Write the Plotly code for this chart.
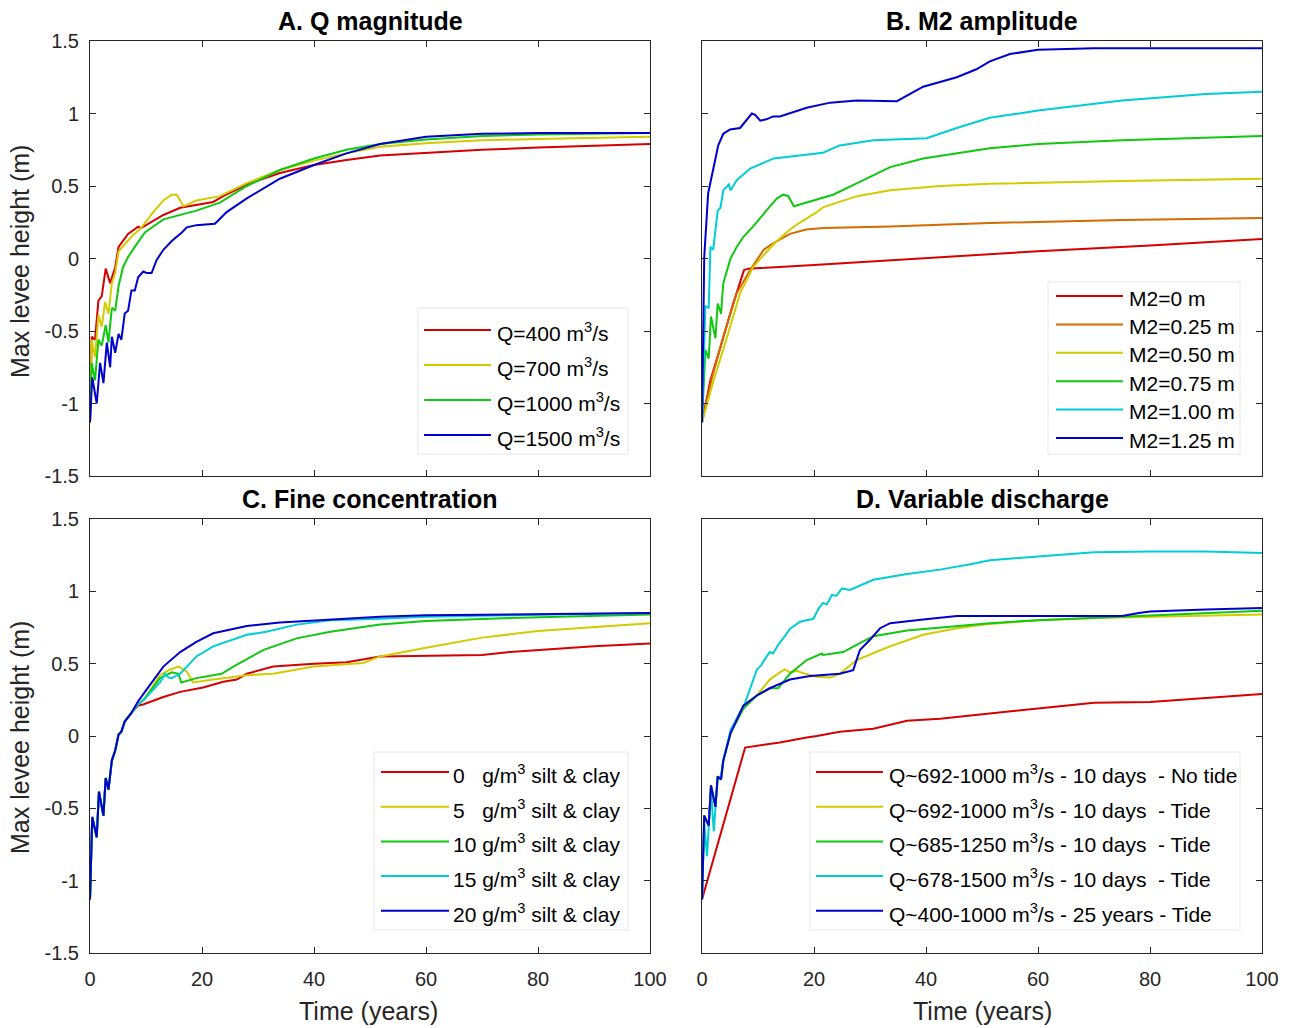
import plotly.graph_objects as go

# ---------------- data ----------------
# Panel A: discharge magnitude
A_T_Q400 = [0, 0.3, 0.9, 1.5, 2.1, 2.8, 3.6, 4.5, 5.1, 6.8, 8.6, 9.1, 13.1, 16.1, 22, 23.8, 28, 33.9, 40, 45.8, 51.8, 60, 70, 80, 90, 100]
A_Q400 = [-1.13, -0.54, -0.56, -0.29, -0.26, -0.07, -0.17, -0.06, 0.08, 0.17, 0.22, 0.21, 0.30, 0.35, 0.39, 0.43, 0.51, 0.59, 0.645, 0.68, 0.71, 0.73, 0.75, 0.765, 0.78, 0.79]
A_T_Q700 = [0, 0.3, 0.9, 1.5, 2.1, 2.7, 3.3, 3.9, 4.5, 5.1, 7.4, 9.1, 11.3, 13.1, 14.6, 15.5, 16.7, 19, 23.2, 28, 33.9, 40, 45.8, 51.8, 60, 70, 80, 90, 100]
A_Q700 = [-1.13, -0.56, -0.68, -0.39, -0.47, -0.30, -0.38, -0.17, -0.10, 0.05, 0.15, 0.21, 0.32, 0.40, 0.44, 0.44, 0.36, 0.40, 0.43, 0.52, 0.61, 0.675, 0.725, 0.77, 0.795, 0.815, 0.825, 0.835, 0.84]
A_T_Q1000 = [0, 0.3, 0.9, 1.5, 2.1, 2.8, 3.3, 3.9, 4.5, 5.1, 5.9, 6.8, 8, 9.8, 13.1, 19, 23.2, 28, 33.9, 40, 45.8, 51.8, 60, 70, 80, 90, 100]
A_Q1000 = [-1.13, -0.72, -0.84, -0.56, -0.60, -0.46, -0.58, -0.34, -0.36, -0.19, -0.06, 0.01, 0.08, 0.18, 0.27, 0.33, 0.385, 0.50, 0.61, 0.69, 0.75, 0.79, 0.82, 0.845, 0.855, 0.86, 0.865]
A_T_Q1500 = [0, 0.4, 1.2, 1.8, 2.4, 3.0, 3.6, 3.9, 4.5, 5.1, 5.6, 6.2, 6.8, 7.4, 8.0, 8.6, 9.5, 10.1, 11, 11.9, 13.1, 14.6, 16.4, 17.3, 19, 22.3, 24.4, 28, 33.9, 40, 45.8, 51.8, 60, 70, 80, 90, 100]
A_Q1500 = [-1.13, -0.82, -1.0, -0.72, -0.86, -0.58, -0.75, -0.54, -0.65, -0.52, -0.56, -0.38, -0.36, -0.22, -0.22, -0.13, -0.09, -0.10, -0.10, -0.01, 0.06, 0.12, 0.18, 0.215, 0.23, 0.24, 0.32, 0.415, 0.55, 0.645, 0.725, 0.79, 0.84, 0.86, 0.865, 0.865, 0.865]

# Panel B: M2 tidal amplitude
B_T_M000 = [0, 1.5, 3.3, 5.5, 7.5, 8.3, 20, 40, 51.4, 60, 80, 100]
B_M000 = [-1.13, -0.84, -0.61, -0.32, -0.08, -0.07, -0.045, 0.005, 0.03, 0.05, 0.09, 0.135]
B_T_M025 = [0, 0.9, 1.8, 3.8, 6.2, 8.6, 11, 12.7, 15.7, 18.6, 21.7, 33.6, 51.4, 75, 100]
B_M025 = [-1.13, -0.98, -0.82, -0.54, -0.24, -0.08, 0.06, 0.105, 0.17, 0.20, 0.21, 0.22, 0.245, 0.265, 0.28]
B_T_M050 = [0, 0.9, 2, 4.5, 6.8, 9.1, 12.8, 15.7, 17, 20.5, 21.7, 27.7, 33.6, 42.5, 51.4, 75, 100]
B_M050 = [-1.13, -1.0, -0.85, -0.54, -0.24, -0.06, 0.10, 0.20, 0.235, 0.32, 0.355, 0.43, 0.47, 0.50, 0.515, 0.535, 0.55]
B_T_M075 = [0, 0.6, 1.2, 1.6, 2.4, 2.8, 3.4, 3.8, 5.1, 6.2, 7.4, 9.1, 11.6, 13.4, 14.5, 15.4, 16.4, 23.4, 27.7, 33.6, 39.5, 51.4, 60, 75, 100]
B_M075 = [-1.13, -0.63, -0.69, -0.40, -0.55, -0.31, -0.38, -0.17, 0.0, 0.08, 0.15, 0.22, 0.335, 0.415, 0.44, 0.43, 0.36, 0.44, 0.52, 0.63, 0.69, 0.76, 0.79, 0.815, 0.845]
B_T_M100 = [0, 0.6, 1.2, 1.5, 2.0, 2.8, 3.3, 3.8, 4.8, 5.1, 6.2, 8.6, 12.8, 18.8, 21.6, 24.6, 30.6, 40.1, 45.5, 51.4, 60, 75, 90, 100]
B_M100 = [-1.13, -0.33, -0.34, 0.08, 0.06, 0.33, 0.35, 0.47, 0.51, 0.47, 0.54, 0.62, 0.69, 0.72, 0.73, 0.78, 0.815, 0.83, 0.90, 0.97, 1.02, 1.09, 1.135, 1.15]
B_T_M125 = [0, 0.4, 1.1, 1.7, 2.3, 2.9, 3.8, 5.0, 6.8, 7.4, 8.9, 9.5, 10.4, 11.5, 12.7, 13.9, 18.7, 22.9, 27.6, 34.8, 39.5, 45.5, 49, 51.4, 55, 60, 70, 80, 100]
B_M125 = [-1.13, 0.01, 0.45, 0.56, 0.68, 0.78, 0.86, 0.89, 0.90, 0.93, 1.00, 0.99, 0.95, 0.96, 0.98, 0.98, 1.04, 1.075, 1.09, 1.085, 1.185, 1.25, 1.305, 1.36, 1.41, 1.44, 1.45, 1.45, 1.45]

# Panel C: fine sediment concentration (shared spin-up, then per run)
C_T_START = [0, 0.4, 1.2, 1.6, 2.4, 2.8, 3.3, 3.9, 4.5, 5.1, 5.6, 6.2, 7.4]
C_START = [-1.13, -0.56, -0.70, -0.385, -0.55, -0.29, -0.37, -0.17, -0.10, 0.01, 0.03, 0.10, 0.16]
C_T_F00 = [8.6, 9.6, 13.1, 16.1, 20.2, 23.8, 26.2, 28, 32.7, 40, 45.8, 51.8, 60, 70, 75, 80, 90, 100]
C_F00 = [0.21, 0.22, 0.27, 0.305, 0.335, 0.375, 0.39, 0.43, 0.48, 0.50, 0.51, 0.55, 0.555, 0.56, 0.58, 0.595, 0.62, 0.64]
C_T_F05 = [8.6, 9.6, 12.5, 14.3, 15.8, 17.3, 18.4, 22, 28, 32.7, 40, 48.8, 51.8, 60, 70, 80, 90, 100]
C_F05 = [0.22, 0.25, 0.42, 0.46, 0.48, 0.445, 0.37, 0.39, 0.42, 0.43, 0.48, 0.505, 0.55, 0.61, 0.68, 0.725, 0.755, 0.78]
C_T_F10 = [8.6, 9.6, 12.5, 14.6, 15.8, 16.3, 19, 23.5, 25.6, 31, 36.9, 42.9, 51.8, 60, 75, 100]
C_F10 = [0.22, 0.25, 0.40, 0.44, 0.43, 0.37, 0.40, 0.43, 0.48, 0.595, 0.675, 0.72, 0.77, 0.795, 0.815, 0.84]
C_T_F15 = [8.6, 9.6, 12.5, 13.4, 14, 14.6, 16.1, 19, 22, 28, 31.5, 36.9, 42.9, 51.8, 60, 75, 100]
C_F15 = [0.22, 0.25, 0.37, 0.43, 0.405, 0.40, 0.43, 0.55, 0.62, 0.70, 0.72, 0.77, 0.80, 0.81, 0.825, 0.835, 0.85]
C_T_F20 = [8.6, 10.1, 13.1, 16.1, 19, 22, 28, 33.9, 42.9, 51.8, 60, 75, 100]
C_F20 = [0.24, 0.32, 0.48, 0.58, 0.65, 0.71, 0.76, 0.785, 0.805, 0.825, 0.835, 0.84, 0.85]

# Panel D: variable discharge
D_T_NOTIDE = [0, 7.7, 13.9, 17, 18.7, 20.5, 24.6, 30.6, 36.6, 42.5, 51.4, 60, 70, 80, 90, 100]
D_NOTIDE = [-1.13, -0.08, -0.045, -0.02, -0.01, 0.0, 0.03, 0.05, 0.105, 0.12, 0.155, 0.19, 0.23, 0.235, 0.265, 0.29]
D_T_START = [0, 0.4, 1.2, 1.6, 2.4, 2.8, 3.4, 3.8, 5.1]
D_START = [-1.13, -0.55, -0.62, -0.34, -0.49, -0.28, -0.30, -0.17, 0.02]
D_T_Q692 = [7.4, 9.8, 12.1, 13.9, 14.8, 15.7, 16.9, 18.4, 20.5, 22.9, 24.6, 27.6, 33.6, 39.5, 45.5, 51.4, 60, 70, 80, 90, 100]
D_Q692 = [0.21, 0.28, 0.39, 0.44, 0.46, 0.44, 0.45, 0.43, 0.41, 0.405, 0.43, 0.525, 0.62, 0.70, 0.745, 0.775, 0.80, 0.815, 0.825, 0.83, 0.84]
D_T_Q685 = [7.4, 9.8, 12.1, 13.6, 15.7, 18.7, 21.4, 21.6, 25.2, 27.6, 30.6, 36.6, 45.5, 51.4, 60, 80, 100]
D_Q685 = [0.19, 0.28, 0.33, 0.33, 0.43, 0.525, 0.57, 0.56, 0.58, 0.63, 0.69, 0.73, 0.76, 0.78, 0.80, 0.83, 0.865]
D_T_Q678 = [0, 0.4, 0.9, 1.6, 2.1, 2.8, 3.3, 3.8, 5.1, 7.7, 9.8, 10.6, 11.2, 12.1, 12.7, 13.6, 14.8, 15.7, 17.5, 19.9, 20.8, 21.6, 22.3, 23.2, 24.0, 25, 26.4, 27.6, 30.6, 36.6, 42.5, 48.4, 51.4, 60, 70, 80, 90, 100]
D_Q678 = [-1.13, -0.60, -0.83, -0.37, -0.66, -0.28, -0.30, -0.17, 0.04, 0.23, 0.46, 0.49, 0.53, 0.58, 0.57, 0.63, 0.69, 0.74, 0.79, 0.81, 0.88, 0.92, 0.91, 0.975, 0.97, 1.02, 1.01, 1.03, 1.08, 1.12, 1.15, 1.19, 1.215, 1.24, 1.27, 1.275, 1.275, 1.265]
D_T_Q400 = [7.4, 9.8, 12.1, 15.7, 19.3, 24.6, 27, 28.2, 30, 31.8, 33.6, 39.5, 45.5, 51.4, 60, 75, 78, 80, 90, 100]
D_Q400 = [0.21, 0.28, 0.33, 0.39, 0.415, 0.43, 0.455, 0.595, 0.665, 0.745, 0.78, 0.805, 0.83, 0.83, 0.83, 0.83, 0.85, 0.86, 0.875, 0.885]

# ---------------- styling ----------------
RED, ORANGE, YELLOW = "#d60000", "#d46a00", "#d2cb00"
GREEN, CYAN, BLUE = "#10c810", "#00cdd4", "#0000cc"

A_NAMES = ["Q=400 m<sup>3</sup>/s", "Q=700 m<sup>3</sup>/s", "Q=1000 m<sup>3</sup>/s", "Q=1500 m<sup>3</sup>/s"]
B_NAMES = ["M2=0 m", "M2=0.25 m", "M2=0.50 m", "M2=0.75 m", "M2=1.00 m", "M2=1.25 m"]
NB = "\u00a0"
C_NAMES = ["0" + NB * 3 + "g/m<sup>3</sup> silt &amp; clay", "5" + NB * 3 + "g/m<sup>3</sup> silt &amp; clay",
           "10 g/m<sup>3</sup> silt &amp; clay", "15 g/m<sup>3</sup> silt &amp; clay", "20 g/m<sup>3</sup> silt &amp; clay"]
D_NAMES = ["Q~692-1000 m<sup>3</sup>/s - 10 days" + NB * 2 + "- No tide",
           "Q~692-1000 m<sup>3</sup>/s - 10 days" + NB * 2 + "- Tide",
           "Q~685-1250 m<sup>3</sup>/s - 10 days" + NB * 2 + "- Tide",
           "Q~678-1500 m<sup>3</sup>/s - 10 days" + NB * 2 + "- Tide",
           "Q~400-1000 m<sup>3</sup>/s - 25 years - Tide"]
TITLES = ["A. Q magnitude", "B. M2 amplitude", "C. Fine concentration", "D. Variable discharge"]

W, H = 1293, 1028
FONT = "Liberation Sans, Arial, sans-serif"
INK = "#262626"

# panel boxes in pixels: (left, right, top, bottom)
PANELS = {
    1: (90, 650, 41, 476),
    2: (702, 1262, 41, 476),
    3: (90, 650, 519, 953),
    4: (702, 1262, 519, 953),
}


def px(x):
    return x / W


def py(y):
    return 1 - y / H


fig = go.Figure()

series = {
    1: [(A_T_Q400, A_Q400, RED), (A_T_Q700, A_Q700, YELLOW), (A_T_Q1000, A_Q1000, GREEN), (A_T_Q1500, A_Q1500, BLUE)],
    2: [(B_T_M000, B_M000, RED), (B_T_M025, B_M025, ORANGE), (B_T_M050, B_M050, YELLOW),
        (B_T_M075, B_M075, GREEN), (B_T_M100, B_M100, CYAN), (B_T_M125, B_M125, BLUE)],
    3: [(C_T_START + C_T_F00, C_START + C_F00, RED), (C_T_START + C_T_F05, C_START + C_F05, YELLOW),
        (C_T_START + C_T_F10, C_START + C_F10, GREEN), (C_T_START + C_T_F15, C_START + C_F15, CYAN),
        (C_T_START + C_T_F20, C_START + C_F20, BLUE)],
    4: [(D_T_NOTIDE, D_NOTIDE, RED), (D_T_START + D_T_Q692, D_START + D_Q692, YELLOW),
        (D_T_START + D_T_Q685, D_START + D_Q685, GREEN), (D_T_Q678, D_Q678, CYAN),
        (D_T_START + D_T_Q400, D_START + D_Q400, BLUE)],
}
names = {1: A_NAMES, 2: B_NAMES, 3: C_NAMES, 4: D_NAMES}

for k in (1, 2, 3, 4):
    sfx = "" if k == 1 else str(k)
    for (t, v, col), nm in zip(series[k], names[k]):
        fig.add_trace(go.Scatter(x=t, y=v, mode="lines", name=nm, showlegend=False,
                                 line=dict(color=col, width=2), xaxis="x" + sfx, yaxis="y" + sfx))

YT = [-1.5, -1, -0.5, 0, 0.5, 1, 1.5]
YL = ["-1.5", "-1", "-0.5", "0", "0.5", "1", "1.5"]
XT = [0, 20, 40, 60, 80, 100]

layout = dict(template="none", width=W, height=H, margin=dict(l=0, r=0, t=0, b=0, pad=0),
              paper_bgcolor="white", plot_bgcolor="white",
              font=dict(family=FONT, color=INK), showlegend=False)

for k, (l, r, t, b) in PANELS.items():
    sfx = "" if k == 1 else str(k)
    common = dict(showline=True, linecolor=INK, linewidth=1, mirror="ticks", ticks="inside",
                  ticklen=6, tickcolor=INK, tickwidth=1, showgrid=False, zeroline=False,
                  automargin=False, tickfont=dict(family=FONT, size=20, color=INK))
    layout["xaxis" + sfx] = dict(common, domain=[px(l), px(r)], range=[0, 100], tickvals=XT,
                                 ticktext=[str(v) for v in XT], showticklabels=k in (3, 4),
                                 anchor="y" + sfx, ticklabelstandoff=8)
    layout["yaxis" + sfx] = dict(common, domain=[py(b), py(t)], range=[-1.5, 1.5], tickvals=YT,
                                 ticktext=YL, showticklabels=k in (1, 3), anchor="x" + sfx,
                                 ticklabelstandoff=6)

fig.update_layout(**layout)

annotations = []
shapes = []

# panel titles
for k, (l, r, t, b) in PANELS.items():
    annotations.append(dict(text="<b>" + TITLES[k - 1] + "</b>", x=px((l + r) / 2), y=py(t - 20),
                            xref="paper", yref="paper", showarrow=False, xanchor="center",
                            yanchor="middle", font=dict(family=FONT, size=25, color="black")))

# axis titles
for yc in (262, 738):
    annotations.append(dict(text="Max levee height (m)", x=px(20), y=py(yc), xref="paper", yref="paper",
                            showarrow=False, textangle=-90, xanchor="center", yanchor="middle",
                            font=dict(family=FONT, size=25, color=INK)))
for xc in (368, 982):
    annotations.append(dict(text="Time (years)", x=px(xc), y=py(1011), xref="paper", yref="paper",
                            showarrow=False, xanchor="center", yanchor="middle",
                            font=dict(family=FONT, size=25, color=INK)))

# legends: (box l, r, t, b), line x0, x1, text x, first row y, row step
LEGENDS = {
    1: ((418, 628, 308, 454), 424, 491, 495, 330, 35),
    2: ((1048, 1240, 282, 454), 1056, 1123, 1127, 296, 28.4),
    3: ((374, 628, 752, 930), 381, 449, 451, 772, 34.7),
    4: ((810, 1240, 752, 930), 816, 883, 887, 772, 34.7),
}
for k, (box, x0, x1, xt, y0, dy) in LEGENDS.items():
    bl, br, bt, bb = box
    shapes.append(dict(type="rect", xref="paper", yref="paper", x0=px(bl), x1=px(br), y0=py(bb), y1=py(bt),
                       line=dict(color="#e6e6e6", width=1), fillcolor="white", layer="above"))
    for i, ((_, _, col), nm) in enumerate(zip(series[k], names[k])):
        yy = y0 + i * dy
        shapes.append(dict(type="line", xref="paper", yref="paper", x0=px(x0), x1=px(x1),
                           y0=py(yy), y1=py(yy), line=dict(color=col, width=2), layer="above"))
        annotations.append(dict(text=nm, x=px(xt), y=py(yy + 2), xref="paper", yref="paper",
                                showarrow=False, xanchor="left", yanchor="middle",
                                font=dict(family=FONT, size=21, color="black")))

fig.update_layout(annotations=annotations, shapes=shapes)
fig.write_html("out.html")
